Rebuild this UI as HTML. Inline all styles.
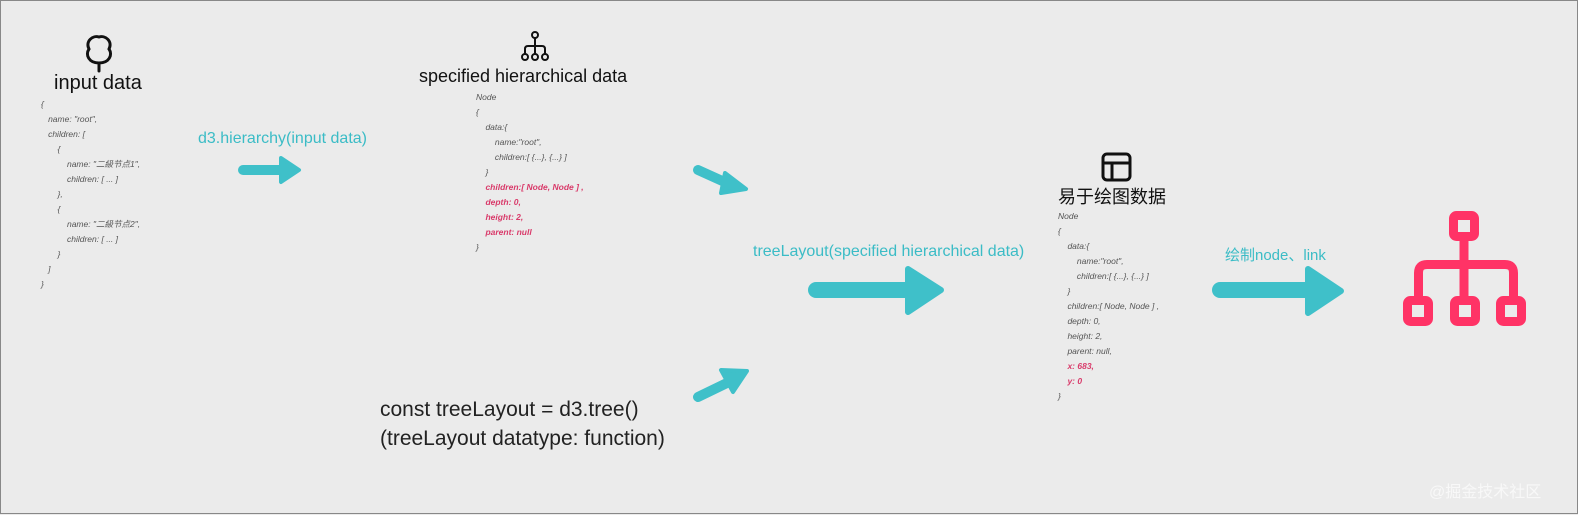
<!DOCTYPE html>
<html><head><meta charset="utf-8"><style>
html,body{margin:0;padding:0}
body{width:1578px;height:514px;background:#ebebeb;position:relative;overflow:hidden;font-family:"Liberation Sans","Noto Sans CJK SC",sans-serif;box-sizing:border-box;border:1px solid #888}
.t{position:absolute;white-space:nowrap;color:#111}
.c{position:absolute;white-space:nowrap;font-style:italic;font-size:8.5px;color:#555;line-height:15px}
.p{color:#d93a6a;font-weight:bold}
.teal{color:#3bbcc6}
svg{position:absolute;left:0;top:0}
</style></head><body>
<svg width="1578" height="514">
 <g fill="none" stroke="#111" stroke-width="3" stroke-linecap="round">
  <path d="M98 70 v-8 c-10 0 -14 -8 -10 -14 c-4 -8 4 -14 10 -12 c6 -2 14 4 10 12 c4 6 0 14 -10 14"/>
  <circle cx="534" cy="34" r="3" stroke-width="2"/>
  <path d="M534 37 v8 M524 52 v-4 q0-3 3-3 h14 q3 0 3 3 v4 M534 45 v7" stroke-width="2"/>
  <circle cx="524" cy="56" r="3" stroke-width="2"/><circle cx="534" cy="56" r="3" stroke-width="2"/><circle cx="544" cy="56" r="3" stroke-width="2"/>
  <rect x="1102" y="153" width="27" height="26" rx="4"/>
  <path d="M1102 162 h27 M1111 162 v17"/>
 </g>
 <g fill="#3fc0c9" stroke="#3fc0c9" stroke-linejoin="round" stroke-linecap="round">
  <path d="M242 169 H280" stroke-width="10"/>
  <path d="M280 157 L298 169 L280 181 Z" stroke-width="4"/>
  <path d="M697 169 L728 183" stroke-width="10"/>
  <path d="M724 172 L745 188 L720 192 Z" stroke-width="4"/>
  <path d="M697 396 L728 381" stroke-width="10"/>
  <path d="M720 369 L746 370 L732 391 Z" stroke-width="4"/>
  <path d="M815 289 H905" stroke-width="16"/>
  <path d="M907 268 L940 289 L907 311 Z" stroke-width="6"/>
  <path d="M1219 289 H1305" stroke-width="16"/>
  <path d="M1307 268 L1340 290 L1307 312 Z" stroke-width="6"/>
 </g>
 <g fill="none" stroke="#ff3366" stroke-width="9" stroke-linejoin="round">
  <rect x="1452.5" y="214.5" width="21" height="21" rx="3"/>
  <path d="M1463 240 V299 M1417.5 299 V272 q0-8.5 8.5-8.5 h78 q8.5 0 8.5 8.5 V299"/>
  <rect x="1406.5" y="299.5" width="21" height="21" rx="3"/>
  <rect x="1453.5" y="299.5" width="21" height="21" rx="3"/>
  <rect x="1499.5" y="299.5" width="21" height="21" rx="3"/>
 </g>
</svg>
<div class="t" style="left:53px;top:71px;font-size:20px">input data</div>
<div class="c" style="left:40px;top:96px">{<br>&nbsp;&nbsp;&nbsp;name: "root",<br>&nbsp;&nbsp;&nbsp;children: [<br>&nbsp;&nbsp;&nbsp;&nbsp;&nbsp;&nbsp;&nbsp;{<br>&nbsp;&nbsp;&nbsp;&nbsp;&nbsp;&nbsp;&nbsp;&nbsp;&nbsp;&nbsp;&nbsp;name: "二級节点1",<br>&nbsp;&nbsp;&nbsp;&nbsp;&nbsp;&nbsp;&nbsp;&nbsp;&nbsp;&nbsp;&nbsp;children: [ ... ]<br>&nbsp;&nbsp;&nbsp;&nbsp;&nbsp;&nbsp;&nbsp;},<br>&nbsp;&nbsp;&nbsp;&nbsp;&nbsp;&nbsp;&nbsp;{<br>&nbsp;&nbsp;&nbsp;&nbsp;&nbsp;&nbsp;&nbsp;&nbsp;&nbsp;&nbsp;&nbsp;name: "二級节点2",<br>&nbsp;&nbsp;&nbsp;&nbsp;&nbsp;&nbsp;&nbsp;&nbsp;&nbsp;&nbsp;&nbsp;children: [ ... ]<br>&nbsp;&nbsp;&nbsp;&nbsp;&nbsp;&nbsp;&nbsp;}<br>&nbsp;&nbsp;&nbsp;]<br>}</div>
<div class="t teal" style="left:197px;top:129px;font-size:16px">d3.hierarchy(input data)</div>
<div class="t" style="left:418px;top:65px;font-size:18px">specified hierarchical data</div>
<div class="c" style="left:475px;top:89px">Node<br>{<br>&nbsp;&nbsp;&nbsp;&nbsp;data:{<br>&nbsp;&nbsp;&nbsp;&nbsp;&nbsp;&nbsp;&nbsp;&nbsp;name:"root",<br>&nbsp;&nbsp;&nbsp;&nbsp;&nbsp;&nbsp;&nbsp;&nbsp;children:[ {...}, {...} ]<br>&nbsp;&nbsp;&nbsp;&nbsp;}<br><span class="p">&nbsp;&nbsp;&nbsp;&nbsp;children:[ Node, Node ] ,<br>&nbsp;&nbsp;&nbsp;&nbsp;depth: 0,<br>&nbsp;&nbsp;&nbsp;&nbsp;height: 2,<br>&nbsp;&nbsp;&nbsp;&nbsp;parent: null</span><br>}</div>
<div class="t teal" style="left:752px;top:242px;font-size:16px">treeLayout(specified hierarchical data)</div>
<div class="t" style="left:379px;top:394px;font-size:21px;color:#222;line-height:29px">const treeLayout = d3.tree()<br>(treeLayout datatype: function)</div>
<div class="t" style="left:1057px;top:182px;font-size:18px">易于绘图数据</div>
<div class="c" style="left:1057px;top:208px">Node<br>{<br>&nbsp;&nbsp;&nbsp;&nbsp;data:{<br>&nbsp;&nbsp;&nbsp;&nbsp;&nbsp;&nbsp;&nbsp;&nbsp;name:"root",<br>&nbsp;&nbsp;&nbsp;&nbsp;&nbsp;&nbsp;&nbsp;&nbsp;children:[ {...}, {...} ]<br>&nbsp;&nbsp;&nbsp;&nbsp;}<br>&nbsp;&nbsp;&nbsp;&nbsp;children:[ Node, Node ] ,<br>&nbsp;&nbsp;&nbsp;&nbsp;depth: 0,<br>&nbsp;&nbsp;&nbsp;&nbsp;height: 2,<br>&nbsp;&nbsp;&nbsp;&nbsp;parent: null,<br><span class="p">&nbsp;&nbsp;&nbsp;&nbsp;x: 683,<br>&nbsp;&nbsp;&nbsp;&nbsp;y: 0</span><br>}</div>
<div class="t teal" style="left:1224px;top:243px;font-size:15px">绘制node、link</div>
<div class="t" style="left:1428px;top:477px;font-size:16px;color:#f8f8f8">@掘金技术社区</div>
</body></html>
